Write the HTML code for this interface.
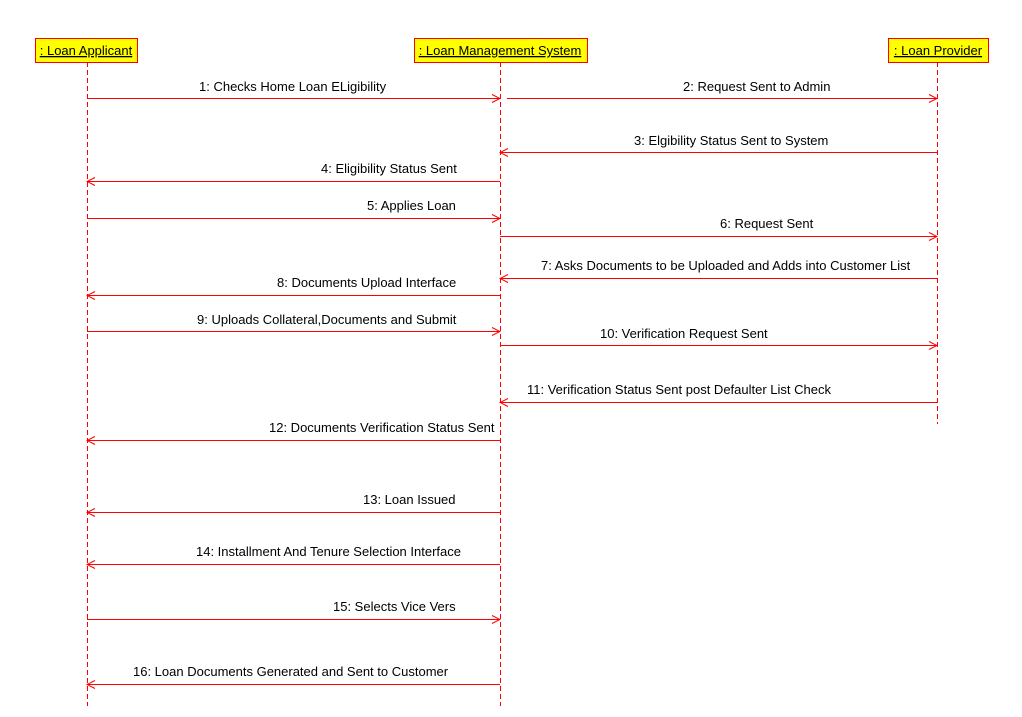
<!DOCTYPE html>
<html><head><meta charset="utf-8"><style>
html,body{margin:0;padding:0;background:#fff;width:1022px;height:717px;overflow:hidden}
svg text{font-family:"Liberation Sans",Arial,sans-serif;font-size:13px;fill:#000}
</style></head><body>
<svg width="1022" height="717" viewBox="0 0 1022 717" xmlns="http://www.w3.org/2000/svg">
<defs>
<marker id="a" markerWidth="10" markerHeight="10" refX="9" refY="5" orient="auto" markerUnits="userSpaceOnUse">
<path d="M1,1 L9,5 L1,9" fill="none" stroke="#f00" stroke-width="1"/>
</marker>
</defs>
<g stroke="#f00" stroke-width="1" stroke-dasharray="5,3" fill="none">
<line x1="87.5" y1="62" x2="87.5" y2="706"/>
<line x1="500.5" y1="62" x2="500.5" y2="706"/>
<line x1="937.5" y1="62" x2="937.5" y2="424"/>
</g>
<g fill="#ffff00" stroke="#f00" stroke-width="1">
<rect x="35.5" y="38.5" width="102" height="24"/>
<rect x="414.5" y="38.5" width="173" height="24"/>
<rect x="888.5" y="38.5" width="100" height="24"/>
</g>
<g text-anchor="middle">
<text x="86" y="55" text-decoration="underline">: Loan Applicant</text>
<text x="500" y="55" text-decoration="underline">: Loan Management System</text>
<text x="938" y="55" text-decoration="underline">: Loan Provider</text>
</g>
<g stroke="#f00" stroke-width="1" marker-end="url(#a)">
<line x1="87" y1="98.5" x2="500" y2="98.5"/>
<line x1="507" y1="98.5" x2="937" y2="98.5"/>
<line x1="937" y1="152.5" x2="500" y2="152.5"/>
<line x1="500" y1="181.5" x2="87" y2="181.5"/>
<line x1="87" y1="218.5" x2="500" y2="218.5"/>
<line x1="500" y1="236.5" x2="937" y2="236.5"/>
<line x1="937" y1="278.5" x2="500" y2="278.5"/>
<line x1="500" y1="295.5" x2="87" y2="295.5"/>
<line x1="87" y1="331.5" x2="500" y2="331.5"/>
<line x1="500" y1="345.5" x2="937" y2="345.5"/>
<line x1="937" y1="402.5" x2="500" y2="402.5"/>
<line x1="500" y1="440.5" x2="87" y2="440.5"/>
<line x1="500" y1="512.5" x2="87" y2="512.5"/>
<line x1="500" y1="564.5" x2="87" y2="564.5"/>
<line x1="87" y1="619.5" x2="500" y2="619.5"/>
<line x1="500" y1="684.5" x2="87" y2="684.5"/>
</g>
<g>
<text x="199" y="91">1: Checks Home Loan ELigibility</text>
<text x="683" y="91">2: Request Sent to Admin</text>
<text x="634" y="145">3: Elgibility Status Sent to System</text>
<text x="321" y="173">4: Eligibility Status Sent</text>
<text x="367" y="210">5: Applies Loan</text>
<text x="720" y="228">6: Request Sent</text>
<text x="541" y="270">7: Asks Documents to be Uploaded and Adds into Customer List</text>
<text x="277" y="287">8: Documents Upload Interface</text>
<text x="197" y="324">9: Uploads Collateral,Documents and Submit</text>
<text x="600" y="338">10: Verification Request Sent</text>
<text x="527" y="394">11: Verification Status Sent post Defaulter List Check</text>
<text x="269" y="432">12: Documents Verification Status Sent</text>
<text x="363" y="504">13: Loan Issued</text>
<text x="196" y="556">14: Installment And Tenure Selection Interface</text>
<text x="333" y="611">15: Selects Vice Vers</text>
<text x="133" y="676">16: Loan Documents Generated and Sent to Customer</text>
</g>
</svg>
</body></html>
